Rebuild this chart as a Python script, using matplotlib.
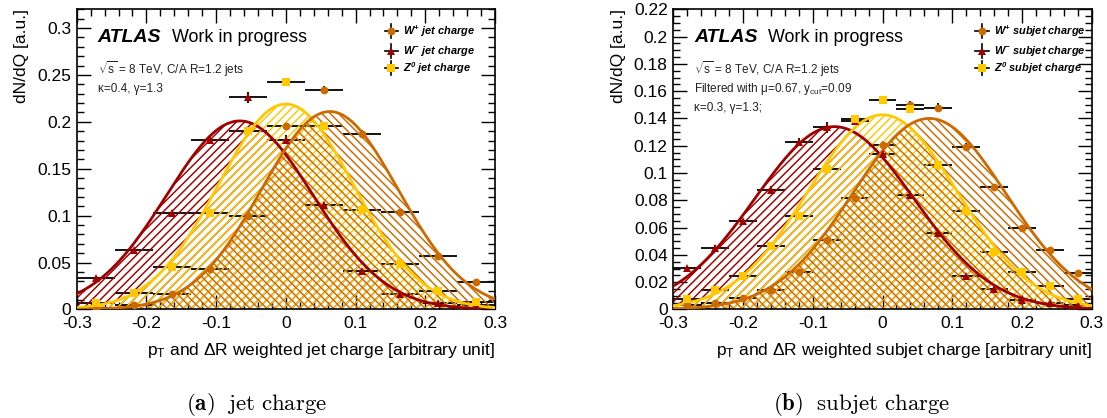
import numpy as np
import matplotlib
matplotlib.use("Agg")
import matplotlib.pyplot as plt
from matplotlib.ticker import MultipleLocator, FuncFormatter

plt.rcParams['font.family'] = ['Liberation Sans', 'DejaVu Sans']
plt.rcParams['axes.unicode_minus'] = False
plt.rcParams['mathtext.fontset'] = 'custom'
plt.rcParams['mathtext.rm'] = 'Liberation Sans'
plt.rcParams['mathtext.it'] = 'Liberation Sans:italic'
plt.rcParams['mathtext.bf'] = 'Liberation Sans:bold'
plt.rcParams['mathtext.bfit'] = 'Liberation Sans:bold:italic'
plt.rcParams['hatch.linewidth'] = 1.05

# ---------------- data: (a) jet charge ----------------
jet_bin_edges = np.linspace(-0.3, 0.3, 12)
jet_wplus  = [0.002, 0.005, 0.016, 0.043, 0.100, 0.196, 0.234, 0.187, 0.104, 0.057, 0.029]
jet_wminus = [0.034, 0.063, 0.1025, 0.181, 0.226, 0.181, 0.111, 0.041, 0.016, 0.007, 0.005]
jet_z0     = [0.007, 0.018, 0.0455, 0.1025, 0.190, 0.242, 0.196, 0.106, 0.048, 0.020, 0.008]
jet_wplus_err  = [0.001, 0.001, 0.002, 0.002, 0.003, 0.004, 0.004, 0.004, 0.003, 0.002, 0.002]
jet_wminus_err = [0.002, 0.002, 0.003, 0.004, 0.006, 0.005, 0.004, 0.002, 0.002, 0.001, 0.001]
jet_z0_err     = [0.001, 0.001, 0.002, 0.003, 0.004, 0.004, 0.004, 0.003, 0.002, 0.001, 0.001]
# gaussian fit parameters (amplitude, mean, sigma)
jet_fit_wplus  = (0.211, 0.063, 0.098)
jet_fit_wminus = (0.201, -0.066, 0.105)
jet_fit_z0     = (0.219, 0.000, 0.097)

# ---------------- data: (b) subjet charge ----------------
sub_bin_edges = np.linspace(-0.3, 0.3, 16)
sub_wplus  = [0.003, 0.005, 0.0085, 0.014, 0.0276, 0.0507, 0.082, 0.1206, 0.1498, 0.148, 0.119, 0.090, 0.060, 0.0434, 0.0268]
sub_wminus = [0.0302, 0.0451, 0.0646, 0.0873, 0.123, 0.1334, 0.138, 0.114, 0.0837, 0.056, 0.0249, 0.0151, 0.0073, 0.0044, 0.003]
sub_z0     = [0.0078, 0.0141, 0.0244, 0.0463, 0.0688, 0.103, 0.1396, 0.1535, 0.147, 0.1056, 0.0724, 0.0422, 0.0276, 0.0171, 0.0078]
sub_wplus_err  = [0.001, 0.001, 0.001, 0.001, 0.002, 0.002, 0.003, 0.003, 0.003, 0.003, 0.003, 0.002, 0.002, 0.002, 0.001]
sub_wminus_err = [0.001, 0.002, 0.002, 0.003, 0.003, 0.004, 0.003, 0.003, 0.003, 0.002, 0.001, 0.001, 0.001, 0.001, 0.001]
sub_z0_err     = [0.001, 0.001, 0.001, 0.002, 0.002, 0.003, 0.003, 0.003, 0.003, 0.003, 0.002, 0.002, 0.001, 0.001, 0.001]
sub_fit_wplus  = (0.140, 0.067, 0.110)
sub_fit_wminus = (0.134, -0.069, 0.114)
sub_fit_z0     = (0.1427, 0.000, 0.107)

C_WP = '#cc6a00'
C_WM = '#a00000'
C_Z0 = '#ffc800'


def gauss(x, p):
    a, m, s = p
    return a * np.exp(-0.5 * ((x - m) / s) ** 2)


def fmt(v, p):
    return '0' if abs(v) < 1e-9 else '%g' % round(v, 3)


def draw_panel(ax, edges, series, fits, ylim, ymaj, ymin, labels, texts, legx):
    centers = 0.5 * (edges[:-1] + edges[1:])
    xerr = 0.5 * (edges[1] - edges[0])
    x = np.linspace(-0.3, 0.3, 600)
    # error bars (below hatch)
    for vals, errs, col, mk in series:
        ax.errorbar(centers, vals, xerr=xerr, yerr=errs, fmt='none',
                    ecolor='black', elinewidth=1.3, capsize=0, zorder=1)
    # hatched fills and fit curves
    hatches = ['////', '////', '\\\\\\\\']
    order = [1, 2, 0]  # W-, Z0, W+
    for k, i in enumerate(order):
        col = series[i][2]
        y = gauss(x, fits[i])
        ax.fill_between(x, 0, y, facecolor='none', edgecolor=col,
                        hatch=hatches[k], linewidth=0, zorder=2)
    for i in order:
        col = series[i][2]
        ax.plot(x, gauss(x, fits[i]), color=col, lw=2.0, zorder=3)
    # markers
    for vals, errs, col, mk in series:
        ax.plot(centers, vals, linestyle='none', marker=mk, color=col,
                markersize=5.6, markeredgewidth=0, zorder=4)

    ax.set_xlim(-0.3, 0.3)
    ax.set_ylim(*ylim)
    ax.xaxis.set_major_locator(MultipleLocator(0.1))
    ax.xaxis.set_minor_locator(MultipleLocator(0.02))
    ax.yaxis.set_major_locator(MultipleLocator(ymaj))
    ax.yaxis.set_minor_locator(MultipleLocator(ymin))
    ax.xaxis.set_major_formatter(FuncFormatter(fmt))
    ax.yaxis.set_major_formatter(FuncFormatter(fmt))
    ax.tick_params(which='both', direction='in', top=True, right=True,
                   labelsize=12.5, width=1.0)
    ax.tick_params(which='major', length=10, pad=4)
    ax.tick_params(axis='x', which='major', pad=5)
    ax.tick_params(which='minor', length=5)
    for sp in ax.spines.values():
        sp.set_linewidth(1.2)

    # ATLAS label
    ax.text(0.05, 0.905, 'ATLAS', transform=ax.transAxes, fontsize=14,
            fontweight='bold', fontstyle='italic', va='center', ha='left')
    ax.text(0.227, 0.905, 'Work in progress', transform=ax.transAxes,
            fontsize=12.9, va='center', ha='left')
    for (ty, t) in texts:
        ax.text(0.05, ty, t, transform=ax.transAxes, fontsize=8.5,
                va='center', ha='left', color='#222222')

    # legend (manual)
    legend_y = [0.928, 0.861, 0.804]
    for (vals, errs, col, mk), lab, yy in zip(series, labels, legend_y):
        ax.plot([legx - 0.016, legx + 0.016], [yy, yy], color='black', lw=1.2,
                transform=ax.transAxes, clip_on=False, zorder=5)
        ax.plot([legx, legx], [yy - 0.024, yy + 0.024], color='black', lw=1.2,
                transform=ax.transAxes, clip_on=False, zorder=5)
        ax.plot([legx], [yy], marker=mk, color=col, markersize=5.6,
                markeredgewidth=0, transform=ax.transAxes, zorder=6)
        ax.text(legx + 0.028, yy, lab, transform=ax.transAxes, fontsize=7.9,
                va='center', ha='left')


fig = plt.figure(figsize=(11.07, 4.18), dpi=100)
ax1 = fig.add_axes([0.0693, 0.2596, 0.3779, 0.7182])
ax2 = fig.add_axes([0.6082, 0.2596, 0.3780, 0.7182])

draw_panel(ax1, jet_bin_edges,
           [(jet_wplus, jet_wplus_err, C_WP, 'o'),
            (jet_wminus, jet_wminus_err, C_WM, '^'),
            (jet_z0, jet_z0_err, C_Z0, 's')],
           [jet_fit_wplus, jet_fit_wminus, jet_fit_z0],
           (0, 0.32), 0.05, 0.01,
           [r'$\mathbfit{W^{+}\ jet\ charge}$', r'$\mathbfit{W^{-}\ jet\ charge}$',
            r'$\mathbfit{Z^{0}\ jet\ charge}$'],
           [(0.80, r'$\sqrt{\mathrm{s}}$ = 8 TeV, C/A R=1.2 jets'),
            (0.733, 'κ=0.4, γ=1.3')], 0.752)

draw_panel(ax2, sub_bin_edges,
           [(sub_wplus, sub_wplus_err, C_WP, 'o'),
            (sub_wminus, sub_wminus_err, C_WM, '^'),
            (sub_z0, sub_z0_err, C_Z0, 's')],
           [sub_fit_wplus, sub_fit_wminus, sub_fit_z0],
           (0, 0.22), 0.02, 0.005,
           [r'$\mathbfit{W^{+}\ subjet\ charge}$', r'$\mathbfit{W^{-}\ subjet\ charge}$',
            r'$\mathbfit{Z^{0}\ subjet\ charge}$'],
           [(0.80, r'$\sqrt{\mathrm{s}}$ = 8 TeV, C/A R=1.2 jets'),
            (0.733, r'Filtered with μ=0.67, y$_{\mathrm{cut}}$=0.09'),
            (0.67, 'κ=0.3, γ=1.3;')], 0.738)

ax1.set_xlabel(r'p$_{\mathrm{T}}$ and ΔR weighted jet charge [arbitrary unit]',
               fontsize=12.5, loc='right', labelpad=7)
ax2.set_xlabel(r'p$_{\mathrm{T}}$ and ΔR weighted subjet charge [arbitrary unit]',
               fontsize=12.5, loc='right', labelpad=7)
ax1.set_ylabel('dN/dQ [a.u.]', fontsize=12.5, loc='top', labelpad=6)
ax2.set_ylabel('dN/dQ [a.u.]', fontsize=12.5, loc='top', labelpad=6)

fig.text(257 / 1107, 1 - 404 / 418, r'$\mathbf{(a)}\ \ \mathrm{jet\ charge}$',
         math_fontfamily='cm', fontsize=16.5, ha='center', va='center')
fig.text(862 / 1107, 1 - 404 / 418, r'$\mathbf{(b)}\ \ \mathrm{subjet\ charge}$',
         math_fontfamily='cm', fontsize=16.5, ha='center', va='center')

fig.savefig('out.png', dpi=100)
